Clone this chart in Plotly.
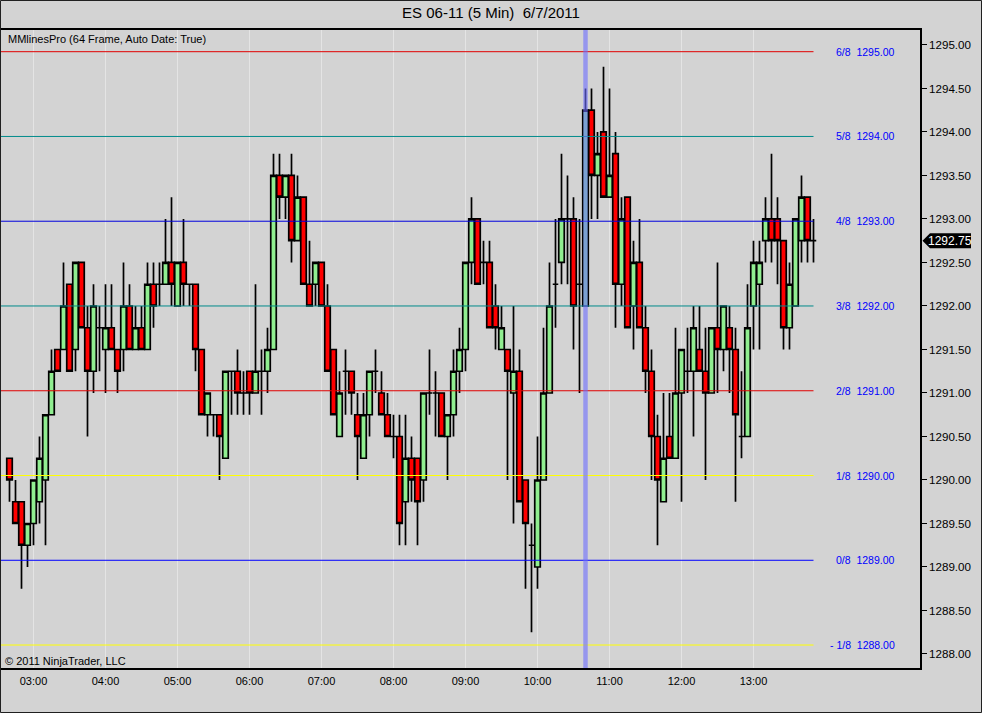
import plotly.graph_objects as go
import pandas as pd

# ---------------- data ----------------
chart_title = "ES 06-11 (5 Min)  6/7/2011"
indicator_label = "MMlinesPro (64 Frame, Auto Date: True)"
copyright_label = "© 2011 NinjaTrader, LLC"
session_start = "2011-06-07 02:40"
bar_minutes = 5
hour_ticks = ["03:00", "04:00", "05:00", "06:00", "07:00", "08:00",
              "09:00", "10:00", "11:00", "12:00", "13:00"]

opens = [1290.25, 1289.75, 1289.75, 1289.25, 1289.50, 1289.75, 1290.00, 1290.75, 1291.50, 1291.50,
         1292.25, 1291.50, 1292.50, 1291.75, 1291.25, 1291.75, 1291.50, 1291.75, 1291.50, 1291.50,
         1292.00, 1291.50, 1291.75, 1291.50, 1292.25, 1292.25, 1292.25, 1292.50, 1292.00, 1292.50,
         1292.25, 1292.25, 1291.50, 1290.75, 1290.75, 1290.75, 1290.25, 1291.25, 1291.25, 1291.00,
         1291.25, 1291.00, 1291.25, 1291.25, 1291.50, 1293.50, 1293.25, 1293.50, 1292.75, 1293.25,
         1292.25, 1292.25, 1292.50, 1292.00, 1291.50, 1290.50, 1291.25, 1291.25, 1290.75, 1290.25,
         1290.75, 1291.25, 1291.00, 1290.75, 1290.50, 1290.50, 1289.75, 1290.25, 1290.25, 1290.00,
         1291.00, 1291.00, 1291.00, 1290.50, 1290.75, 1291.25, 1291.50, 1292.50, 1293.00, 1292.50,
         1292.50, 1292.00, 1291.50, 1291.50, 1291.00, 1291.25, 1290.00, 1289.25, 1289.00, 1290.00,
         1291.00, 1292.25, 1292.50, 1293.00, 1293.00, 1292.25, 1292.00, 1294.25, 1293.50, 1294.00,
         1293.25, 1293.75, 1292.25, 1293.25, 1292.00, 1292.50, 1291.75, 1291.25, 1290.50, 1289.75,
         1290.50, 1290.25, 1291.00, 1291.25, 1291.25, 1291.50, 1291.25, 1291.00, 1291.75, 1291.50,
         1291.75, 1291.50, 1290.50, 1290.50, 1292.00, 1292.25, 1292.75, 1293.00, 1293.00, 1292.75,
         1291.75, 1292.00, 1292.75, 1293.25, 1292.75]
highs = [1290.25, 1290.00, 1289.75, 1289.50, 1290.00, 1290.50, 1290.75, 1291.50, 1291.50, 1292.50,
         1292.25, 1292.50, 1292.50, 1292.00, 1292.25, 1292.00, 1292.25, 1292.25, 1291.50, 1292.50,
         1292.25, 1292.00, 1292.00, 1292.50, 1292.50, 1292.50, 1293.00, 1293.25, 1292.50, 1293.00,
         1292.25, 1292.25, 1291.50, 1291.00, 1290.75, 1290.75, 1291.25, 1291.25, 1291.50, 1291.25,
         1291.25, 1292.25, 1291.50, 1291.75, 1293.75, 1293.75, 1293.50, 1293.75, 1293.50, 1293.25,
         1292.75, 1292.50, 1292.50, 1292.25, 1291.50, 1291.25, 1291.50, 1291.25, 1291.00, 1291.00,
         1291.25, 1291.50, 1291.25, 1291.00, 1290.75, 1290.75, 1290.75, 1290.50, 1290.25, 1291.00,
         1291.50, 1291.25, 1291.00, 1290.75, 1291.50, 1291.75, 1292.50, 1293.25, 1293.00, 1292.75,
         1292.75, 1292.25, 1292.00, 1291.50, 1292.00, 1291.50, 1290.00, 1289.50, 1290.50, 1291.75,
         1292.50, 1293.00, 1293.75, 1293.50, 1293.25, 1293.00, 1294.50, 1294.50, 1294.00, 1294.75,
         1294.50, 1294.00, 1293.25, 1293.25, 1292.75, 1293.00, 1292.00, 1291.50, 1290.75, 1291.00,
         1291.00, 1291.75, 1291.50, 1291.75, 1292.00, 1292.00, 1291.75, 1291.75, 1292.50, 1292.00,
         1292.00, 1291.75, 1291.25, 1292.25, 1292.75, 1292.75, 1293.25, 1293.75, 1293.25, 1292.75,
         1292.50, 1293.00, 1293.50, 1293.25, 1293.00]
lows = [1289.75, 1289.50, 1288.75, 1289.00, 1289.25, 1289.50, 1289.25, 1290.75, 1291.25, 1291.50,
        1291.25, 1291.25, 1291.75, 1290.50, 1291.00, 1291.25, 1291.00, 1291.50, 1291.00, 1291.25,
        1291.50, 1291.50, 1291.50, 1291.50, 1291.75, 1292.00, 1292.25, 1292.00, 1292.00, 1292.00,
        1292.00, 1291.25, 1290.75, 1290.50, 1290.50, 1290.00, 1290.25, 1290.75, 1290.75, 1290.75,
        1290.75, 1291.00, 1290.75, 1291.00, 1291.50, 1293.00, 1293.00, 1292.50, 1292.75, 1292.25,
        1292.00, 1292.00, 1292.00, 1291.25, 1290.75, 1290.50, 1290.75, 1290.75, 1290.00, 1290.25,
        1290.50, 1291.00, 1290.75, 1290.50, 1290.25, 1289.25, 1289.25, 1289.75, 1289.25, 1289.75,
        1290.75, 1290.50, 1290.50, 1290.00, 1290.50, 1291.00, 1291.25, 1292.25, 1292.25, 1292.25,
        1291.75, 1291.50, 1291.50, 1290.00, 1289.50, 1289.75, 1288.75, 1288.25, 1288.75, 1290.00,
        1291.00, 1291.75, 1292.25, 1292.25, 1291.50, 1291.00, 1292.00, 1293.00, 1293.00, 1293.25,
        1293.25, 1291.75, 1292.00, 1291.75, 1291.50, 1291.75, 1291.00, 1290.00, 1289.25, 1289.75,
        1290.25, 1290.25, 1289.75, 1291.00, 1290.50, 1291.25, 1290.00, 1291.00, 1291.00, 1291.25,
        1291.00, 1289.75, 1290.25, 1290.50, 1291.50, 1291.50, 1292.50, 1292.50, 1292.25, 1291.50,
        1291.50, 1292.00, 1292.50, 1292.50, 1292.50]
closes = [1290.00, 1289.50, 1289.25, 1289.50, 1290.00, 1290.25, 1290.75, 1291.25, 1291.25, 1292.00,
          1291.25, 1292.50, 1291.75, 1291.25, 1292.00, 1291.75, 1291.75, 1291.50, 1291.25, 1292.00,
          1291.50, 1291.75, 1291.50, 1292.25, 1292.00, 1292.25, 1292.50, 1292.25, 1292.50, 1292.25,
          1292.25, 1291.50, 1290.75, 1291.00, 1290.75, 1290.50, 1291.25, 1291.25, 1291.00, 1291.00,
          1291.00, 1291.25, 1291.25, 1291.50, 1293.50, 1293.25, 1293.50, 1292.75, 1293.25, 1292.25,
          1292.00, 1292.50, 1292.00, 1291.25, 1290.75, 1291.00, 1291.25, 1291.00, 1290.50, 1290.75,
          1291.25, 1291.25, 1290.75, 1290.50, 1290.50, 1289.50, 1290.25, 1290.00, 1289.75, 1291.00,
          1291.00, 1291.00, 1290.50, 1290.75, 1291.25, 1291.50, 1292.50, 1293.00, 1292.25, 1292.50,
          1291.75, 1291.75, 1291.75, 1291.25, 1291.25, 1289.75, 1289.50, 1289.25, 1290.00, 1291.00,
          1292.00, 1292.25, 1293.00, 1293.00, 1292.00, 1292.25, 1294.25, 1293.50, 1293.75, 1293.25,
          1293.50, 1292.25, 1293.00, 1291.75, 1292.50, 1291.75, 1291.25, 1290.50, 1290.00, 1290.25,
          1290.25, 1291.00, 1291.50, 1291.25, 1291.75, 1291.25, 1291.00, 1291.75, 1291.50, 1292.00,
          1291.50, 1290.75, 1290.50, 1291.75, 1292.50, 1292.50, 1293.00, 1292.75, 1292.75, 1291.75,
          1292.25, 1293.00, 1293.25, 1292.75, 1292.75]

mm_levels = [1295.00, 1294.00, 1293.00, 1292.00, 1291.00, 1290.00, 1289.00, 1288.00]
mm_names = ["6/8", "5/8", "4/8", "3/8", "2/8", "1/8", "0/8", "- 1/8"]
mm_colors = ["#e00000", "#008b8b", "#0000dd", "#008b8b", "#e00000", "#ffff00", "#0000ff", "#ffff00"]

highlight_time = "2011-06-07 10:40"

# ---------------- figure ----------------
times = pd.date_range(session_start, periods=len(opens), freq=f"{bar_minutes}min")
step = pd.Timedelta(minutes=bar_minutes)
x_range = [times[0] - step * 1.4167, times[0] + step * 151.75]
tick_vals = [pd.Timestamp(f"2011-06-07 {t}") for t in hour_ticks]

BG = "#d3d3d3"
FONT = "Liberation Sans, Arial, sans-serif"

fig = go.Figure()

fig.add_trace(go.Candlestick(
    x=times, open=opens, high=highs, low=lows, close=closes,
    increasing=dict(fillcolor="#90ee90", line=dict(color="black", width=1.7)),
    decreasing=dict(fillcolor="#ff0000", line=dict(color="black", width=1.7)),
    whiskerwidth=0, hoverinfo="skip", showlegend=False,
))

for lvl, name, col in zip(mm_levels, mm_names, mm_colors):
    fig.add_trace(go.Scatter(
        x=[x_range[0], times[-1]], y=[lvl, lvl], mode="lines",
        line=dict(color=col, width=1), yaxis="y2",
        hoverinfo="skip", showlegend=False,
    ))
    fig.add_annotation(
        x=(897 - 1) / 919, xref="paper", y=lvl, yref="y2",
        text=f"{name}\u00a0\u00a0{lvl:.2f}", showarrow=False,
        xanchor="right", yanchor="middle",
        font=dict(family=FONT, size=10.5, color="#0000ff"),
    )

# highlighted bar marker
fig.add_shape(type="line", xref="x", yref="paper",
              x0=highlight_time, x1=highlight_time, y0=0, y1=1,
              line=dict(color="rgba(110,110,255,0.6)", width=4.5), layer="above")

# current price marker on right axis
last = closes[-1]
h = 7.5 / 87.0
px = lambda p: (p - 1) / 919
fig.add_shape(type="path", xref="paper", yref="y",
              path=(f"M {px(922.5)},{last} L {px(930)},{last + h} L {px(971)},{last + h} "
                    f"L {px(971)},{last - h} L {px(930)},{last - h} Z"),
              fillcolor="black", line=dict(color="black", width=0), layer="above")
fig.add_annotation(x=px(950.5), xref="paper", y=last, yref="y", text=f"{last:.2f}",
                   showarrow=False, xanchor="center", yanchor="middle",
                   font=dict(family=FONT, size=12, color="white"))

# texts
fig.add_annotation(x=px(6), xref="paper", y=(668 - 39) / 638, yref="paper",
                   text=indicator_label, showarrow=False, xanchor="left", yanchor="middle",
                   font=dict(family=FONT, size=11, color="black"))
fig.add_annotation(x=px(3), xref="paper", y=(668 - 661) / 638, yref="paper",
                   text=copyright_label, showarrow=False, xanchor="left", yanchor="middle",
                   font=dict(family=FONT, size=11, color="black"))

# outer frame
fig.add_shape(type="rect", xref="paper", yref="paper",
              x0=px(0.5), x1=px(981.5), y0=(668 - 712.5) / 638, y1=(668 - 0.5) / 638,
              line=dict(color="#202020", width=1), layer="above")

fig.update_layout(
    width=982, height=713,
    margin=dict(l=1, r=62, t=30, b=45),
    paper_bgcolor=BG, plot_bgcolor=BG,
    boxgap=0.08, boxgroupgap=0,
    hovermode=False,
    showlegend=False,
    title=dict(text=chart_title, x=0.5, xref="container", xanchor="center",
               y=1 - 13 / 713, yref="container", yanchor="middle",
               font=dict(family=FONT, size=15, color="black")),
    xaxis=dict(
        type="date", range=x_range, rangeslider=dict(visible=False),
        tickvals=tick_vals, ticktext=hour_ticks,
        showgrid=True, gridcolor="#e4e4e4", gridwidth=1,
        ticks="outside", ticklen=2, tickcolor=BG,
        tickfont=dict(family=FONT, size=11, color="black"),
        showline=True, linecolor="black", linewidth=1.5, mirror=True,
        zeroline=False, automargin=False, fixedrange=True,
    ),
    yaxis=dict(
        side="right", range=[1287.839, 1295.172], dtick=0.5, tick0=1288,
        tickformat=".2f", showgrid=False, zeroline=False,
        ticks="outside", ticklen=5, tickcolor="black", tickwidth=1,
        tickfont=dict(family=FONT, size=11.6, color="black"),
        showline=True, linecolor="black", linewidth=1.5, mirror=True,
        automargin=False, fixedrange=True,
    ),
    yaxis2=dict(
        overlaying="y", side="right", range=[1287.729, 1295.256],
        visible=False, showgrid=False, zeroline=False, fixedrange=True,
    ),
)

fig.write_html("out.html",
               config={"displayModeBar": False},
               post_script="document.body.style.margin='0';document.body.style.padding='0';")
